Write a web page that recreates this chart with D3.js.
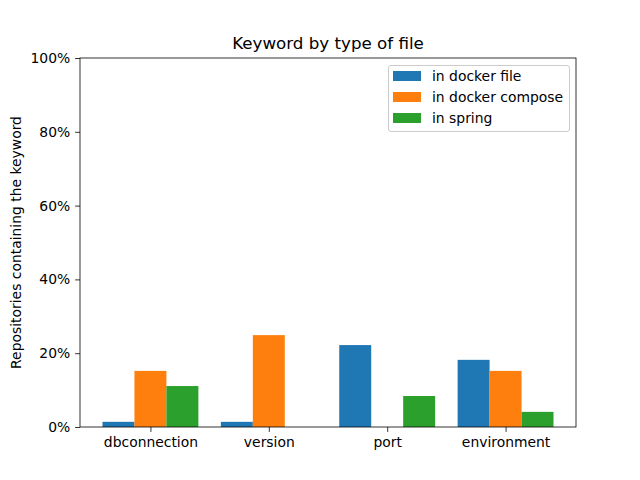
<!DOCTYPE html>
<html>
<head>
<meta charset="utf-8">
<script src="https://cdn.jsdelivr.net/npm/d3@7"></script>
<style>
 body { margin: 0; background: #fff; }
 text { font-family: "DejaVu Sans", sans-serif; fill: #000; }
</style>
</head>
<body>
<svg id="chart"></svg>
<script>
 let keywords = ["dbconnection", "version", "port", "environment"]
 let seriesNames = ["in docker file", "in docker compose", "in spring"]
 let seriesColors = ["#1f77b4", "#ff7f0e", "#2ca02c"]
 let dockerFile = [1.4, 1.4, 22.2, 18.2]
 let dockerCompose = [15.2, 24.9, 0, 15.2]
 let spring = [11.1, 0, 8.4, 4.1]
 let yTicks = [0, 20, 40, 60, 80, 100]

 width = 640
 height = 480
 let plotLeft = 80, plotRight = 576, plotTop = 58, plotBottom = 427
 let barW = 0.27

 var svg = d3.select("#chart").attr("width", width).attr("height", height)

 var x = d3.scaleLinear().domain([-0.595, 3.595]).range([plotLeft, plotRight])
 var y = d3.scaleLinear().domain([0, 100]).range([plotBottom, plotTop])

 let series = [dockerFile, dockerCompose, spring]
 let bars = []
 series.forEach(function(vals, s){
      vals.forEach(function(v, i){
           bars.push({ s: s, i: i, v: v })
      })
 })

 svg.append("g")
      .selectAll("rect")
      .data(bars)
      .enter().append("rect")
           .attr("x", function(d){ return x(d.i + (d.s - 1.5) * barW) })
           .attr("width", function(d){ return x(barW) - x(0) })
           .attr("y", function(d){ return y(d.v) })
           .attr("height", function(d){ return y(0) - y(d.v) })
           .attr("fill", function(d){ return seriesColors[d.s] })

 // axes
 var xAxis = d3.axisBottom(x)
      .tickValues(d3.range(keywords.length))
      .tickFormat(function(d){ return keywords[d] })
      .tickSize(4.9).tickPadding(5.2)
 var gx = svg.append("g").attr("transform", "translate(0," + plotBottom + ")").call(xAxis)

 var yAxis = d3.axisLeft(y)
      .tickValues(yTicks)
      .tickFormat(function(d){ return d + "%" })
      .tickSize(4.9).tickPadding(4.9)
 var gy = svg.append("g").attr("transform", "translate(" + plotLeft + ",0)").call(yAxis)

 ;[gx, gy].forEach(function(g){
      g.select(".domain").remove()
      g.selectAll("line").attr("stroke", "#000").attr("stroke-width", 0.8)
      g.selectAll("text").style("font-size", "13.9px").style("font-family", "DejaVu Sans")
 })

 // frame
 svg.append("rect")
      .attr("x", plotLeft).attr("y", plotTop)
      .attr("width", plotRight - plotLeft).attr("height", plotBottom - plotTop)
      .attr("fill", "none").attr("stroke", "#000").attr("stroke-width", 0.8)

 // title and label
 svg.append("text")
      .attr("x", (plotLeft + plotRight) / 2).attr("y", 49)
      .attr("text-anchor", "middle")
      .style("font-size", "16.7px")
      .text("Keyword by type of file")

 svg.append("text")
      .attr("transform", "translate(21," + (plotTop + plotBottom) / 2 + ") rotate(-90)")
      .attr("text-anchor", "middle")
      .style("font-size", "13.9px")
      .text("Repositories containing the keyword")

 // legend
 var lg = svg.append("g")
 lg.append("rect")
      .attr("x", 388.5).attr("y", 65.5).attr("width", 181).attr("height", 66).attr("rx", 2.5)
      .attr("fill", "#fff").attr("fill-opacity", 0.8)
      .attr("stroke", "#ccc").attr("stroke-width", 1)
 var item = lg.selectAll("g.item")
      .data(seriesNames)
      .enter().append("g").attr("class", "item")
      .attr("transform", function(d, i){ return "translate(393," + (71 + i * 21) + ")" })
 item.append("rect")
      .attr("width", 28).attr("height", 10)
      .attr("fill", function(d, i){ return seriesColors[i] })
 item.append("text")
      .attr("x", 39).attr("y", 10)
      .style("font-size", "13.9px")
      .text(function(d){ return d })
</script>
</body>
</html>
